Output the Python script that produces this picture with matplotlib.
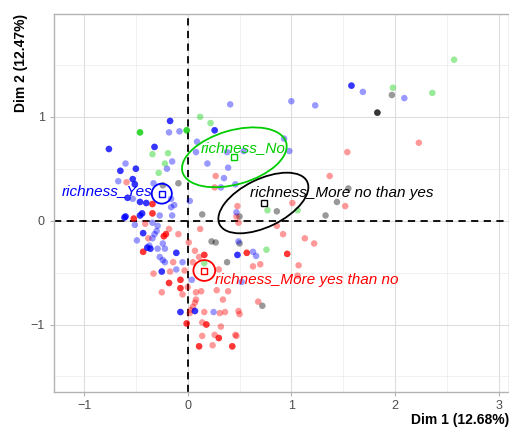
"""
MCA individuals map coloured by richness, with category centroids and ellipses.
"""

import numpy as np
import matplotlib
matplotlib.use("Agg")
import matplotlib.pyplot as plt
from matplotlib.patches import Ellipse

plt.rcParams["font.family"] = ["Liberation Sans", "DejaVu Sans"]

# --------------------------------------------------
# DATA (individual coordinates)
# --------------------------------------------------
# n = number of individuals sitting on the same spot
yes_x = [0.41, 0.26, -0.17, -0.18, -0.08, -0.76, -0.32, -0.15, -0.60, -0.65,
         -0.50, -0.20, -0.67, -0.53, -0.51, -0.33, 0.09, 0.08, 0.19, 0.38,
         0.54, 0.39, 0.35, 0.32, 0.46, 0.02, -0.58, -0.40, -0.46, -0.16,
         -0.13, -0.16, 0.47, 1.00, 1.23, 1.58, 1.69, 2.09, 0.93, 0.98,
         0.63, 0.66, 0.48, 0.49, 0.52, -0.60, -0.44, -0.46, -0.61, -0.27,
         -0.15, -0.51, -0.34, -0.29, -0.30, -0.43, -0.32, -0.49, -0.34, -0.24,
         -0.37, -0.39, -0.36, -0.29, -0.22, -0.27, -0.24, -0.22, -0.11, -0.25,
         -0.11, -0.05, 0.04, -0.07, 0.07, 0.25, -0.53]
yes_y = [1.12, 0.87, 0.96, 0.85, 0.86, 0.69, 0.71, 0.57, 0.55, 0.48,
         0.50, 0.50, 0.38, 0.40, 0.35, 0.36, 0.76, 0.66, 0.55, 0.66,
         0.67, 0.51, 0.41, 0.32, 0.35, 0.19, 0.22, 0.17, 0.18, 0.21,
         0.15, 0.13, 0.08, 1.15, 1.11, 1.30, 1.24, 1.18, 0.79, 0.67,
         -0.30, -0.34, -0.33, -0.20, -0.59, 0.04, 0.07, 0.05, 0.03, 0.05,
         0.05, -0.04, -0.02, -0.05, -0.10, -0.12, -0.13, -0.19, -0.17, -0.22,
         -0.24, -0.26, -0.27, -0.27, -0.27, -0.35, -0.38, -0.40, -0.31, -0.49,
         -0.47, -0.40, -0.57, -0.88, -0.87, -0.88, 0.21]
yes_n = [1, 3, 3, 1, 1, 3, 3, 1, 1, 3,
         3, 1, 1, 3, 3, 1, 1, 1, 1, 1,
         1, 1, 1, 1, 1, 1, 3, 3, 3, 1,
         1, 1, 1, 1, 1, 3, 1, 1, 1, 1,
         1, 1, 3, 1, 1, 3, 3, 3, 3, 1,
         1, 1, 1, 1, 1, 3, 1, 1, 1, 1,
         1, 3, 3, 1, 1, 1, 1, 1, 3, 3,
         1, 1, 1, 3, 3, 1, 1]

no_x = [2.57, 1.98, 2.36, 0.12, 0.22, -0.46, -0.01, -0.34, -0.19, -0.22,
        -0.28, 0.77, 1.06, 0.76, 0.16]
no_y = [1.55, 1.28, 1.23, 1.00, 0.94, 0.85, 0.87, 0.64, 0.65, 0.55,
        0.46, 0.10, 0.10, -0.28, -0.41]
no_n = [1, 1, 1, 1, 1, 3, 3, 1, 1, 1,
        1, 1, 1, 1, 1]

more_no_x = [1.83, 1.97, 1.55, 1.44, 0.86, 1.33, -0.09, -0.24, 0.14, 0.23,
             0.27, 0.38, 0.50, 0.50, 0.72]
more_no_y = [1.04, 1.21, 0.31, 0.18, 0.09, 0.05, 0.36, 0.34, 0.06, -0.20,
             -0.21, -0.40, 0.04, -0.22, -0.82]
more_no_n = [3, 1, 1, 1, 1, 1, 1, 1, 1, 1,
             1, 1, 1, 1, 1]

more_yes_x = [2.23, 1.54, 1.37, 1.01, 1.52, 0.86, 0.92, 1.13, 1.22, 0.96,
              0.57, 0.63, 0.70, 1.07, 1.06, 0.68, 0.49, 0.47, 0.49, 0.50,
              0.47, 0.27, 0.26, -0.59, -0.34, -0.52, -0.34, -0.41, -0.18, 0.12,
              -0.23, -0.21, -0.09, -0.38, 0.01, -0.43, 0.07, 0.16, 0.11, -0.14,
              0.05, -0.33, -0.17, -0.03, 0.30, -0.18, -0.07, 0.28, 0.39, -0.25,
              -0.07, 0.00, 0.08, 0.13, -0.05, 0.34, 0.08, 0.07, 0.05, 0.03,
              0.16, 0.31, 0.36, 0.02, -0.01, 0.14, 0.18, 0.32, 0.14, 0.26,
              0.30, 0.46, 0.11, 0.24, 0.43, 0.48]
more_yes_y = [0.75, 0.66, 0.43, 0.17, 0.14, -0.05, -0.13, -0.17, -0.22, -0.32,
              -0.31, -0.44, -0.42, -0.43, -0.53, -0.78, -0.02, 0.04, -0.87, -0.90,
              -1.11, 0.43, 0.32, 0.37, 0.16, 0.02, 0.07, -0.03, -0.08, -0.08,
              -0.15, -0.13, -0.13, -0.17, -0.21, -0.30, -0.29, -0.33, -0.35, -0.40,
              -0.40, -0.51, -0.49, -0.48, -0.47, -0.60, -0.57, -0.67, -0.68, -0.69,
              -0.65, -0.64, -0.69, -0.68, -0.71, -0.76, -0.76, -0.79, -0.83, -0.86,
              -0.88, -0.89, -0.88, -0.89, -0.99, -0.98, -1.00, -1.02, -1.11, -1.10,
              -1.13, -1.10, -1.21, -1.20, -1.21, 0.14]
more_yes_n = [1, 1, 1, 1, 1, 1, 1, 1, 1, 3,
              3, 1, 1, 1, 1, 1, 1, 1, 1, 1,
              1, 1, 1, 1, 3, 3, 3, 1, 1, 1,
              3, 3, 1, 1, 1, 3, 1, 3, 1, 1,
              1, 1, 1, 1, 1, 3, 3, 1, 1, 1,
              3, 1, 1, 1, 1, 1, 1, 1, 1, 1,
              1, 1, 1, 1, 3, 1, 3, 1, 1, 1,
              3, 1, 3, 1, 3, 1]

# category centroids and confidence ellipses
categories = ["richness_More no than yes", "richness_More yes than no",
              "richness_No", "richness_Yes"]
cat_x = [0.74, 0.16, 0.45, -0.25]
cat_y = [0.17, -0.48, 0.61, 0.26]
ell_x = [0.73, 0.16, 0.45, -0.25]
ell_y = [0.17, -0.48, 0.61, 0.26]
ell_a = [0.47, 0.105, 0.52, 0.097]
ell_b = [0.23, 0.10, 0.26, 0.096]
ell_angle = [26, 0, 16, 0]

dim1_pct = 12.68
dim2_pct = 12.47

# --------------------------------------------------
# STYLE
# --------------------------------------------------
COLORS = ["black", "red", "#00CD00", "blue"]
ALPHA = 0.4
# label anchors (repelled text positions) and alignment
LABEL_POS = [(0.60, 0.27, "left"), (0.26, -0.57, "left"),
             (0.13, 0.70, "left"), (-0.34, 0.29, "right")]

groups = [
    (more_no_x, more_no_y, more_no_n),
    (more_yes_x, more_yes_y, more_yes_n),
    (no_x, no_y, no_n),
    (yes_x, yes_y, yes_n),
]

fig = plt.figure(figsize=(5.1, 4.3), dpi=100)
ax = fig.add_axes([54 / 510, 38 / 430, 455 / 510, 378 / 430])

# grid
ax.set_xticks([-1, 0, 1, 2, 3])
ax.set_yticks([-1, 0, 1])
ax.set_xticks(np.arange(-1.5, 3.01, 0.5), minor=True)
ax.set_yticks(np.arange(-1.5, 2.01, 0.5), minor=True)
ax.grid(which="major", color="#DEDEDE", linewidth=0.8)
ax.grid(which="minor", color="#EBEBEB", linewidth=0.5)
ax.set_axisbelow(True)

# reference lines
ax.axhline(0, color="black", linestyle=(0, (4, 3)), linewidth=1.3, zorder=2)
ax.axvline(0, color="black", linestyle=(0, (4, 3)), linewidth=1.3, zorder=2)

# individuals
for (gx, gy, gn), col in zip(groups, COLORS):
    xs = np.repeat(gx, gn)
    ys = np.repeat(gy, gn)
    ax.scatter(xs, ys, s=22, color=col, alpha=ALPHA, edgecolors="none", zorder=3)

# ellipses, centroids and labels
for i, cat in enumerate(categories):
    col = COLORS[i]
    ax.add_patch(Ellipse((ell_x[i], ell_y[i]), 2 * ell_a[i], 2 * ell_b[i],
                         angle=ell_angle[i], fill=False, edgecolor=col,
                         linewidth=1.3, zorder=4))
    ax.plot(cat_x[i], cat_y[i], marker="s", markersize=4.5, markerfacecolor="white",
            markeredgecolor=col, markeredgewidth=1.0, linestyle="none", zorder=5)
    lx, ly, ha = LABEL_POS[i]
    ax.text(lx, ly, cat, color=col, fontsize=11, fontstyle="italic",
            ha=ha, va="center", zorder=6)

ax.set_xlim(-1.29, 3.10)
ax.set_ylim(-1.65, 1.99)

ax.set_xticklabels(["\u22121", "0", "1", "2", "3"])
ax.set_yticklabels(["\u22121", "0", "1"])
ax.tick_params(which="major", colors="#B3B3B3", labelcolor="#4D4D4D",
               labelsize=9, length=3, width=0.8)
ax.tick_params(axis="x", pad=2.5)
ax.tick_params(which="minor", length=0)

for sp in ax.spines.values():
    sp.set_color("#B3B3B3")
    sp.set_linewidth(1.0)

ax.set_xlabel(f"Dim 1 ({dim1_pct:.2f}%)", loc="right", fontsize=10,
              fontweight="bold", labelpad=1)
ax.set_ylabel(f"Dim 2 ({dim2_pct:.2f}%)", loc="top", fontsize=10,
              fontweight="bold", labelpad=2)

fig.savefig("out.png", dpi=100)
